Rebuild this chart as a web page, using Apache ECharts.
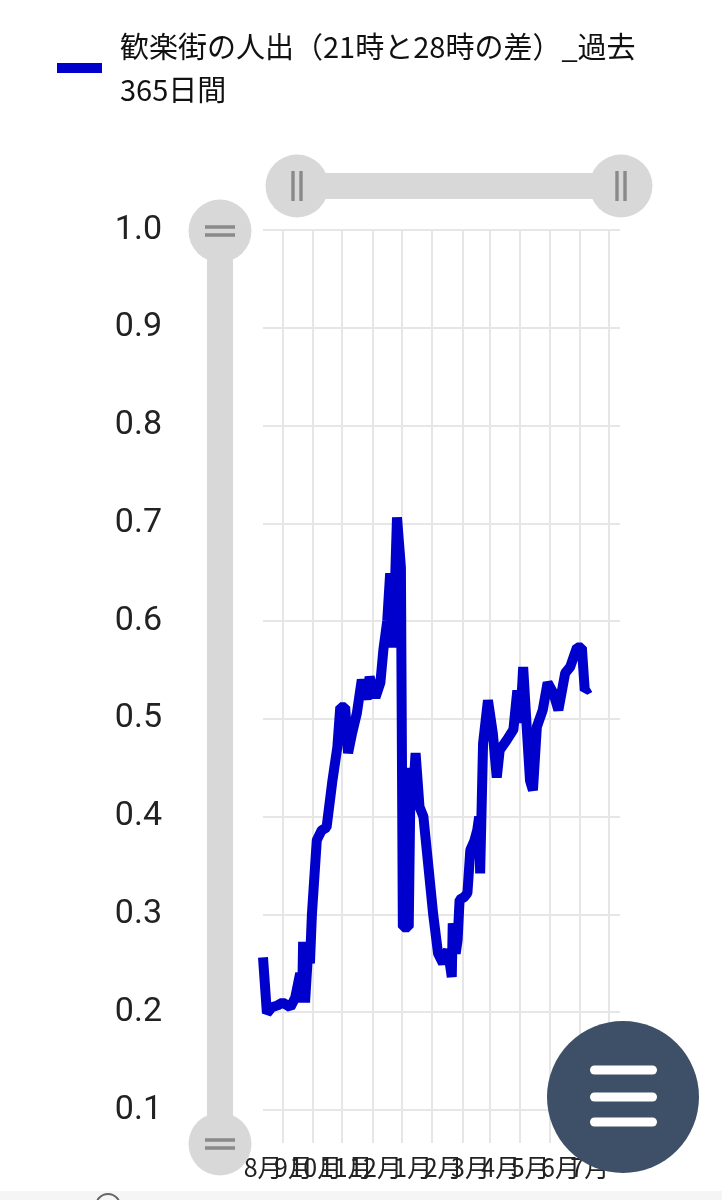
<!DOCTYPE html>
<html>
<head>
<meta charset="utf-8">
<script src="https://cdn.jsdelivr.net/npm/echarts@6/dist/echarts.min.js"></script>
<style>
html,body{margin:0;padding:0;background:#fff;}
#chart{width:722px;height:1200px;}
</style>
</head>
<body>
<div id="chart"></div>
<script>
// ---- data ----
const seriesName = '歓楽街の人出（21時と28時の差）_過去365日間';
const startDate = [2020, 6, 12];        // axis start (year, monthIndex, day)
const axisDays = 365;                   // length of x axis in days
// day offsets from startDate for each read point
const dayOffsets = [0,4,9,15,20,28,33,35,38,40,41,43,46,48,50,55,60,65,71,76,79,84,87,91,96,101,106,109,115,120,123,127,130,133,137,141,143,149,151,153,156,160,164,169,174,179,184,189,191,193,194,197,199,201,206,209,212,216,219,221,222,225,230,235,239,242,249,256,260,263,266,270,273,276,280,286,291,297,302,309,314,321,326,329,334];
const values = [0.256,0.199,0.205,0.207,0.210,0.205,0.215,0.225,0.24,0.21,0.272,0.21,0.26,0.25,0.30,0.376,0.386,0.389,0.437,0.471,0.512,0.512,0.465,0.485,0.506,0.54,0.52,0.543,0.522,0.537,0.57,0.60,0.649,0.573,0.706,0.655,0.287,0.287,0.45,0.415,0.465,0.41,0.40,0.35,0.30,0.26,0.25,0.264,0.25,0.236,0.291,0.26,0.274,0.315,0.318,0.322,0.366,0.375,0.386,0.40,0.342,0.475,0.519,0.485,0.44,0.468,0.478,0.489,0.529,0.496,0.553,0.485,0.437,0.427,0.492,0.509,0.537,0.526,0.509,0.547,0.553,0.573,0.573,0.529,0.532];
const yMin = 0.1, yMax = 1.0, yInterval = 0.1;

// ---- build ----
function dayTs(off){ return new Date(startDate[0], startDate[1], startDate[2] + off).getTime(); }
const seriesData = dayOffsets.map((d, i) => [dayTs(d), values[i]]);

const gridLine = { color: '#e6e6e6', width: 2 };
const handleSvg = '<svg xmlns="http://www.w3.org/2000/svg" width="64" height="64" viewBox="0 0 64 64">' +
  '<circle cx="32" cy="32" r="31.5" fill="#d8d8d8"/>' +
  '<rect x="26.3" y="17" width="3.4" height="30" fill="#8a8a8a"/>' +
  '<rect x="34.3" y="17" width="3.4" height="30" fill="#8a8a8a"/></svg>';
const handleIcon = 'image://data:image/svg+xml;charset=utf-8,' + encodeURIComponent(handleSvg);

const zoomCommon = {
  type: 'slider',
  showDataShadow: false,
  showDetail: false,
  brushSelect: false,
  moveHandleSize: 0,
  backgroundColor: 'rgba(0,0,0,0)',
  borderColor: 'transparent',
  fillerColor: '#d8d8d8',
  handleIcon: handleIcon,
  handleSize: 64,
  handleStyle: { color: '#d8d8d8', borderWidth: 0 },
  filterMode: 'none',
  start: 0, end: 100
};

const chart = echarts.init(document.getElementById('chart'), null, { renderer: 'canvas' });
chart.setOption({
  animation: false,
  backgroundColor: '#fff',
  legend: {
    left: 52, top: 20,
    icon: 'rect',
    itemWidth: 45, itemHeight: 10,
    data: [seriesName],
    textStyle: {
      fontFamily: 'Noto Sans CJK JP', fontSize: 29, color: '#111',
      width: 530, overflow: 'break', lineHeight: 43,
      padding: [0, 0, 0, 13]
    }
  },
  grid: { left: 263, right: 102, top: 230, bottom: 90 },
  xAxis: {
    type: 'time',
    min: dayTs(0), max: dayTs(axisDays),
    splitNumber: 12,
    minInterval: 28 * 86400000,
    maxInterval: 31 * 86400000,
    axisLine: { show: false },
    axisTick: { show: true, length: 33, lineStyle: gridLine },
    splitLine: { show: true, showMinLine: false, showMaxLine: false, lineStyle: gridLine },
    axisLabel: {
      margin: 45,
      fontFamily: 'Noto Sans CJK JP', fontSize: 25, color: '#222',
      align: 'right',
      hideOverlap: false,
      formatter: function (v) { return (new Date(v).getMonth() + 1) + '月'; }
    }
  },
  yAxis: {
    type: 'value',
    min: yMin, max: yMax, interval: yInterval,
    axisLine: { show: false },
    axisTick: { show: false },
    splitLine: { show: true, lineStyle: gridLine },
    axisLabel: {
      margin: 101,
      fontFamily: 'Roboto', fontSize: 34, color: '#222',
      formatter: function (v) { return v.toFixed(1); }
    }
  },
  dataZoom: [
    Object.assign({}, zoomCommon, { xAxisIndex: 0, orient: 'horizontal', left: 295, width: 326, top: 173, height: 26 }),
    Object.assign({}, zoomCommon, { yAxisIndex: 0, orient: 'vertical', left: 207, width: 26, top: 230, height: 915 })
  ],
  series: [{
    name: seriesName,
    type: 'line',
    data: seriesData,
    showSymbol: false,
    symbol: 'none',
    lineStyle: { color: '#0000cc', width: 10 },
    itemStyle: { color: '#0000cc' }
  }],
  graphic: [
    { type: 'rect', left: 0, top: 1191, shape: { width: 722, height: 9 }, style: { fill: '#f5f5f5' }, z: 100 },
    { type: 'circle', shape: { cx: 108, cy: 1206, r: 12 }, style: { fill: 'none', stroke: '#666', lineWidth: 2 }, z: 101 },
    { type: 'circle', shape: { cx: 623, cy: 1097, r: 76 }, style: { fill: '#3e5068' }, z: 110 },
    { type: 'rect', shape: { x: 590, y: 1065.5, width: 67, height: 9, r: 4.5 }, style: { fill: '#fff' }, z: 111 },
    { type: 'rect', shape: { x: 590, y: 1092.5, width: 67, height: 9, r: 4.5 }, style: { fill: '#fff' }, z: 111 },
    { type: 'rect', shape: { x: 590, y: 1117.5, width: 67, height: 9, r: 4.5 }, style: { fill: '#fff' }, z: 111 }
  ]
});
</script>
</body>
</html>
